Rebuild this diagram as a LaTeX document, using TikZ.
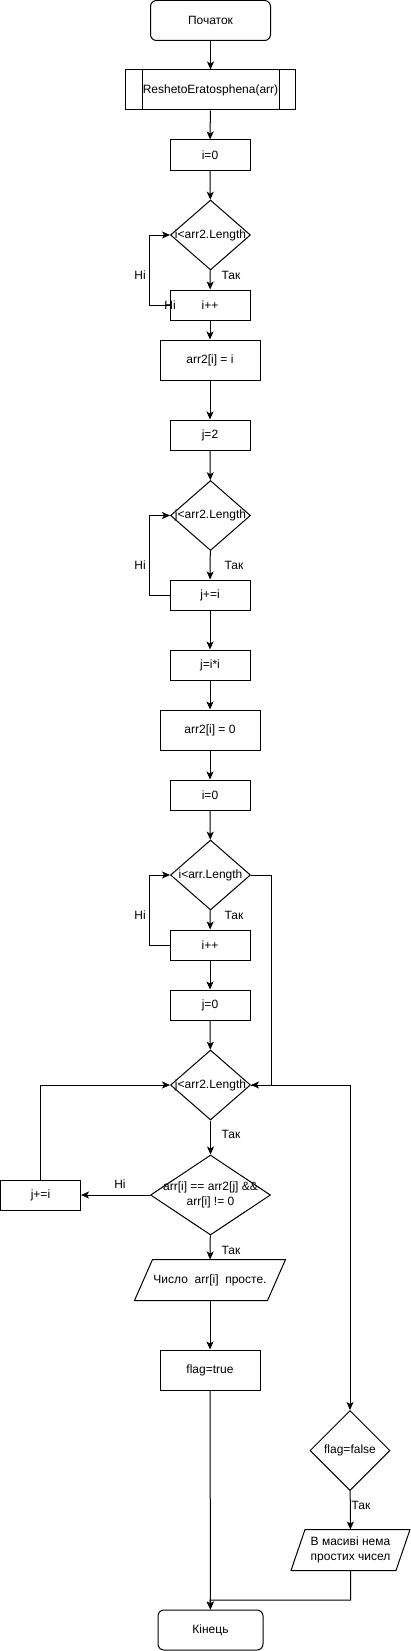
\documentclass[tikz,border=0pt]{standalone}
\usepackage{fontspec}
\setmainfont{Liberation Sans}
\usetikzlibrary{shapes.geometric,arrows.meta}
\begin{document}
\begin{tikzpicture}[x=1pt,y=-1pt,line width=1pt,
  font=\fontsize{12}{14.3}\selectfont,
  box/.style={draw,rectangle,minimum width=80pt,minimum height=30pt,inner sep=0pt},
  wbox/.style={draw,rectangle,minimum width=100pt,minimum height=40pt,inner sep=0pt},
  term/.style={draw,rectangle,rounded corners=6pt,minimum height=40pt,inner sep=0pt},
  dia/.style={draw,diamond,inner sep=0pt,minimum width=80pt,minimum height=70pt},
  io/.style={rectangle,minimum height=40pt,inner sep=0pt,align=center},
  txt/.style={inner sep=0pt,align=center},
  arr/.style={-{Stealth[length=8pt,width=7pt,inset=2pt]}},
  ln/.style={line width=1pt}]
\useasboundingbox (0,0) rectangle (411,1651);
% nodes
\node[term,minimum width=120pt] (start) at (210.5,20.5) {Початок};
\node[draw,rectangle,minimum width=170pt,minimum height=40pt,inner sep=0pt] (proc) at (210.5,90) {ReshetoEratosphena(arr)};
\draw ([xshift=17pt]proc.north west) -- ([xshift=17pt]proc.south west);
\draw ([xshift=-17pt]proc.north east) -- ([xshift=-17pt]proc.south east);
\node[box] (i0a) at (210,155) {i=0};
\node[dia] (d1) at (210.5,235) {};
\node[txt] (d1t) at (210.5,235) {i<arr2.Length};
\node[box] (ipp1) at (210,305) {i++};
\node[wbox] (a2i) at (210,360) {arr2[i] = i};
\node[box] (j2) at (210,435) {j=2};
\node[dia] (d2) at (210.5,515.5) {};
\node[txt] (d2t) at (210.5,515.5) {j<arr2.Length};
\node[box] (jpi1) at (210,595) {j+=i};
\node[box] (jii) at (210,665) {j=i*i};
\node[wbox] (a20) at (210,730) {arr2[i] = 0};
\node[box] (i0b) at (210,795) {i=0};
\node[dia] (d3) at (210.5,875) {};
\node[txt] (d3t) at (210.5,875) {i<arr.Length};
\node[box] (ipp2) at (210,945) {i++};
\node[box] (j0) at (210,1005) {j=0};
\node[dia] (d4) at (210.5,1085) {};
\node[txt] (d4t) at (210.5,1085) {j<arr2.Length};
\node[dia,minimum width=120pt,minimum height=80pt] (d5) at (210.5,1195) {};
\node[txt] (d5t) at (210.5,1195) {arr[i] == arr2[j] \&\&\\arr[i] != 0};
\node[box] (jpi2) at (40.5,1195) {j+=i};
\node[io,minimum width=150pt] (out1) at (210,1280) {Число\ \ arr[i]\ \ просте.};
\draw ([xshift=18pt]out1.north west) -- (out1.north east) -- ([xshift=-18pt]out1.south east) -- (out1.south west) -- cycle;
\node[wbox] (ftrue) at (210,1370) {flag=true};
\node[dia,minimum width=80pt,minimum height=80pt] (dff) at (350,1450.5) {};
\node[txt] (dfft) at (350,1450.5) {flag=false};
\node[io,minimum width=118pt] (out2) at (350.5,1550) {В масиві нема\\простих чисел};
\draw ([xshift=14pt]out2.north west) -- (out2.north east) -- ([xshift=-14pt]out2.south east) -- (out2.south west) -- cycle;
\node[term,minimum width=105pt] (end) at (210.5,1630) {Кінець};
\coordinate (jn) at (210,1600);
% labels
\node[txt] (l1) at (231,275) {Так};
\node[txt] (l2) at (140,275) {Ні};
\node[txt] (l3) at (170,305) {Ні};
\node[txt] (l4) at (234,565) {Так};
\node[txt] (l5) at (140,565) {Ні};
\node[txt] (l6) at (234,915) {Так};
\node[txt] (l7) at (140,915) {Ні};
\node[txt] (l8) at (231,1134) {Так};
\node[txt] (l9) at (120,1184) {Ні};
\node[txt] (l10) at (231,1250) {Так};
\node[txt] (l11) at (361,1505) {Так};
% connectors
\draw[arr] (start) -- (proc);
\draw[arr] (proc) -- (i0a);
\draw[arr] (i0a) -- (d1);
\draw[arr] (d1) -- (ipp1);
\draw[arr] (ipp1.west) -- ++(-20,0) |- (d1.west);
\draw[arr] (ipp1) -- (a2i);
\draw[arr] (a2i) -- (j2);
\draw[arr] (j2) -- (d2);
\draw[arr] (d2) -- (jpi1);
\draw[arr] (jpi1.west) -- ++(-20,0) |- (d2.west);
\draw[arr] (jpi1) -- (jii);
\draw[arr] (jii) -- (a20);
\draw[arr] (a20) -- (i0b);
\draw[arr] (i0b) -- (d3);
\draw[arr] (d3) -- (ipp2);
\draw[arr] (ipp2.west) -- ++(-20,0) |- (d3.west);
\draw[arr] (d3.east) -- ++(20,0) |- (d4.east);
\draw[arr] (ipp2) -- (j0);
\draw[arr] (j0) -- (d4);
\draw[arr] (d4) -- (d5);
\draw[arr] (d5.west) -- (jpi2.east);
\draw[arr] (jpi2.north) |- (d4.west);
\draw[arr] (d4.east) -| (dff.north);
\draw[arr] (d5) -- (out1);
\draw[arr] (out1) -- (ftrue);
\draw[arr] (ftrue) -- (end);
\draw[arr] (dff) -- (out2);
\draw[arr] (out2.south) |- (jn) -- (end.north);
\end{tikzpicture}
\end{document}
